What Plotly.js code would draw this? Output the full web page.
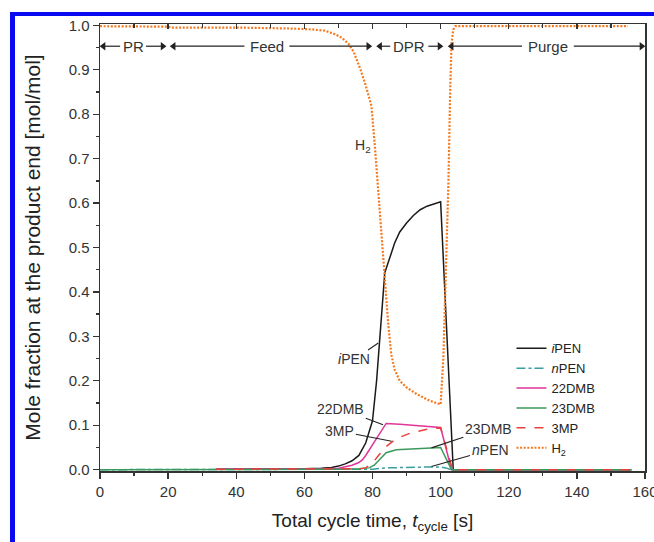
<!DOCTYPE html>
<html>
<head>
<meta charset="utf-8">
<script src="https://cdn.plot.ly/plotly-3.0.1.min.js"></script>
<style>
  html, body { margin: 0; padding: 0; background: #ffffff; }
  #wrap { position: relative; width: 654px; height: 542px; overflow: hidden; }
  #chart { position: absolute; left: 0; top: 0; width: 654px; height: 542px; }
  #bl { position: absolute; left: 10px; top: 12px; width: 5px; height: 530px; background: #0a0af0; z-index: 5; }
  #bt { position: absolute; left: 10px; top: 12px; width: 644px; height: 4px; background: #0a0af0; z-index: 5; }
</style>
</head>
<body>
<div id="wrap">
  <div id="chart"></div>
  <div id="bl"></div>
  <div id="bt"></div>
</div>
<script>
// ---- Data ----
const seriesNames = ['<i>i</i>PEN', '<i>n</i>PEN', '22DMB', '23DMB', '3MP', 'H<sub>2</sub>'];

const iPEN_x = [34, 50, 60, 65, 68, 70, 72, 74, 76, 78, 80, 81.2, 82.4, 83.6, 85, 86.5, 88, 90, 92, 94, 96, 98, 100, 103.7, 110, 130, 156];
const iPEN_y = [0.001, 0.001, 0.002, 0.003, 0.005, 0.008, 0.013, 0.02, 0.032, 0.06, 0.11, 0.2, 0.32, 0.443, 0.475, 0.51, 0.535, 0.555, 0.572, 0.585, 0.593, 0.598, 0.603, 0.0, 0.0, 0.0, 0.0];

const nPEN_x = [0, 20, 40, 60, 80, 84, 88, 92, 96, 100, 101.5, 103, 110, 156];
const nPEN_y = [0, 0, 0, 0, 0.001, 0.004, 0.005, 0.005, 0.006, 0.006, 0.004, 0, 0, 0];

const dmb22_x = [34, 60, 66, 70, 72, 74, 76, 77, 78, 79, 80, 81, 82, 83, 84, 88, 92, 96, 100, 103.2, 110, 156];
const dmb22_y = [0.001, 0.001, 0.002, 0.003, 0.006, 0.01, 0.016, 0.022, 0.032, 0.044, 0.055, 0.068, 0.08, 0.093, 0.104, 0.102, 0.1, 0.098, 0.095, 0.0, 0.0, 0.0];

const dmb23_x = [0, 20, 40, 60, 70, 76, 79, 80.5, 82, 84, 87, 90, 95, 100, 103.2, 110, 156];
const dmb23_y = [0, 0, 0, 0.001, 0.001, 0.002, 0.004, 0.01, 0.022, 0.038, 0.045, 0.046, 0.048, 0.05, 0.0, 0.0, 0.0];

const mp3_x = [34, 60, 70, 76, 78, 80, 82, 84, 87, 91, 96, 100, 103.5, 110, 156];
const mp3_y = [0.001, 0.001, 0.001, 0.002, 0.004, 0.015, 0.034, 0.052, 0.07, 0.082, 0.091, 0.094, 0.0, 0.0, 0.0];

const h2_x = [0, 20, 21, 40, 55, 62, 66, 69, 71, 73, 74.5, 75.5, 76.5, 78, 79.7, 80.7, 81.7, 82.7, 83.7, 84.6, 85.5, 86.5, 88, 90, 93, 96, 99, 100, 100.8, 101.6, 102.3, 102.8, 103.2, 103.7, 104.3, 120, 140, 155];
const h2_y = [0.998, 0.997, 0.995, 0.995, 0.993, 0.991, 0.988, 0.98, 0.972, 0.958, 0.94, 0.92, 0.9, 0.865, 0.818, 0.728, 0.624, 0.518, 0.415, 0.33, 0.26, 0.225, 0.2, 0.185, 0.17, 0.158, 0.149, 0.147, 0.25, 0.45, 0.65, 0.85, 0.96, 0.99, 0.998, 0.998, 0.998, 0.998];

// phases (arrow bands at the top)
const phaseNames = ['PR', 'Feed', 'DPR', 'Purge'];
const phaseStart = [0, 20.6, 81.2, 102.2];
const phaseEnd   = [19.4, 79.8, 100.7, 160];
const phaseLabelX = [9.7, 49, 90.8, 131.5];
const phaseHalfGap = [3.8, 6.6, 5.6, 7.6];
const phaseY = 0.953;

// curve labels with leader lines
const labelText = ['<i>i</i>PEN', '22DMB', '3MP', '23DMB', '<i>n</i>PEN'];
const labelTX = [74.6, 70.7, 70.4, 114.0, 114.5];
const labelTY = [0.248, 0.137, 0.087, 0.092, 0.045];
const labelPX = [81.7, 83.1, 85.6, 97.3, 97.3];
const labelPY = [0.285, 0.101, 0.064, 0.049, 0.007];

// ---- Traces ----
const colors = ['#1a1a1a', '#3a9e9e', '#e0359a', '#3a9a5c', '#e8403a', '#f47a20'];
const dashes = ['solid', 'dashdot', 'solid', 'solid', 'dash', '2px,1.6px'];
const widths = [1.5, 1.5, 1.5, 1.5, 1.5, 2.2];
const xs = [iPEN_x, nPEN_x, dmb22_x, dmb23_x, mp3_x, h2_x];
const ys = [iPEN_y, nPEN_y, dmb22_y, dmb23_y, mp3_y, h2_y];

const traces = seriesNames.map((n, i) => ({
  type: 'scatter', mode: 'lines', name: n,
  x: xs[i], y: ys[i],
  line: {color: colors[i], dash: dashes[i], width: widths[i]},
  hoverinfo: 'skip'
}));

// phase arrow shafts
const shaftX = [], shaftY = [];
phaseNames.forEach((p, i) => {
  shaftX.push(phaseStart[i] + 0.5, phaseLabelX[i] - phaseHalfGap[i], null,
              phaseLabelX[i] + phaseHalfGap[i], phaseEnd[i] - 0.5, null);
  shaftY.push(phaseY, phaseY, null, phaseY, phaseY, null);
});
traces.push({type: 'scatter', mode: 'lines', x: shaftX, y: shaftY, showlegend: false,
             hoverinfo: 'skip', line: {color: '#222', width: 1.2}});
// phase arrow heads
const headOffset = 1.0;
traces.push({type: 'scatter', mode: 'markers', showlegend: false, hoverinfo: 'skip', cliponaxis: false,
             x: phaseStart.map(v => v + headOffset), y: phaseStart.map(() => phaseY),
             marker: {symbol: 'triangle-left', size: 7.5, color: '#222', line: {width: 0}}});
traces.push({type: 'scatter', mode: 'markers', showlegend: false, hoverinfo: 'skip', cliponaxis: false,
             x: phaseEnd.map(v => v - headOffset), y: phaseEnd.map(() => phaseY),
             marker: {symbol: 'triangle-right', size: 7.5, color: '#222', line: {width: 0}}});

// helper trace so the top (mirrored) axis is drawn
traces.push({type: 'scatter', mode: 'lines', x: [0], y: [null], xaxis: 'x2', showlegend: false, hoverinfo: 'skip'});

// ---- Annotations ----
const ann = [];
const axisCol = '#333333';
phaseNames.forEach((p, i) => {
  ann.push({x: phaseLabelX[i], y: phaseY, xref: 'x', yref: 'y', text: p, showarrow: false,
            font: {size: 15, color: '#333'}});
});
labelText.forEach((t, i) => {
  ann.push({x: labelPX[i], y: labelPY[i], ax: labelTX[i], ay: labelTY[i],
            xref: 'x', yref: 'y', axref: 'x', ayref: 'y', text: t, showarrow: true,
            arrowhead: 0, arrowwidth: 1.1, arrowcolor: '#222', font: {size: 14, color: '#333'}});
});
ann.push({x: 77.1, y: 0.728, xref: 'x', yref: 'y', text: 'H<sub>2</sub>', showarrow: false,
          font: {size: 14, color: '#333'}});

// ---- Layout ----
const tickFont = {family: 'Liberation Sans, Arial, sans-serif', size: 15, color: '#333'};
const layout = {
  width: 654, height: 542,
  margin: {l: 100, r: 9, t: 24, b: 71},
  paper_bgcolor: 'rgba(0,0,0,0)', plot_bgcolor: '#ffffff',
  font: {family: 'Liberation Sans, Arial, sans-serif', size: 14, color: '#333'},
  showlegend: true,
  legend: {x: 0.755, y: 0.308, xanchor: 'left', yanchor: 'top', bgcolor: 'rgba(0,0,0,0)',
           font: {size: 13, color: '#222'}, tracegroupgap: 0},
  xaxis: {
    range: [0, 160], tick0: 0, dtick: 20, ticks: 'outside', ticklen: 6, tickwidth: 1.3, tickcolor: axisCol,
    minor: {dtick: 10, ticks: 'outside', ticklen: 3, tickwidth: 1.3, tickcolor: axisCol},
    showline: true, linecolor: axisCol, linewidth: 1.5, showgrid: false, zeroline: false,
    tickfont: tickFont, ticklabeloverflow: 'allow',
    title: {text: 'Total cycle time, <i>t</i><sub>cycle</sub> [s]', font: {size: 19, color: '#222'}, standoff: 15}
  },
  xaxis2: {
    overlaying: 'x', side: 'top', matches: 'x', range: [0, 160], tick0: 0, dtick: 20,
    ticks: 'inside', ticklen: 5, tickwidth: 1.3, tickcolor: axisCol,
    minor: {dtick: 10, ticks: 'inside', ticklen: 4, tickwidth: 1.3, tickcolor: axisCol},
    showticklabels: false, showline: true, linecolor: axisCol, linewidth: 1.5, showgrid: false, zeroline: false
  },
  yaxis: {
    range: [-0.003, 1.003], tick0: 0, dtick: 0.1, tickformat: '.1f',
    ticks: 'outside', ticklen: 6, tickwidth: 1.3, tickcolor: axisCol,
    minor: {dtick: 0.05, ticks: 'outside', ticklen: 3, tickwidth: 1.3, tickcolor: axisCol},
    showline: true, mirror: true, linecolor: axisCol, linewidth: 1.5, showgrid: false, zeroline: false,
    tickfont: tickFont,
    title: {text: 'Mole fraction at the product end [mol/mol]', font: {size: 21, color: '#222'}, standoff: 22}
  },
  annotations: ann
};

Plotly.newPlot('chart', traces, layout, {displayModeBar: false, staticPlot: true});
</script>
</body>
</html>
